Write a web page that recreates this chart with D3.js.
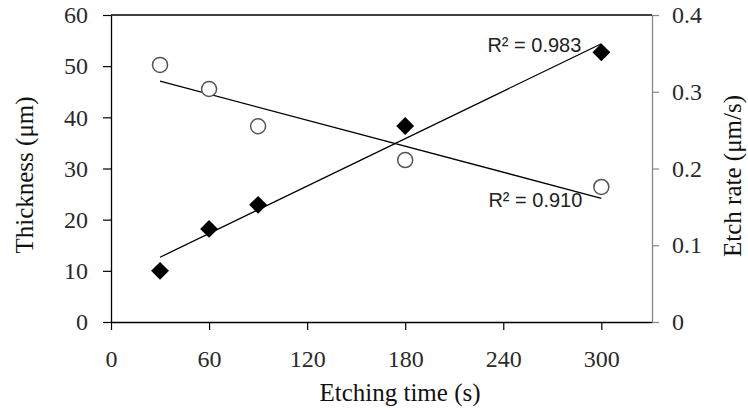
<!DOCTYPE html>
<html>
<head>
<meta charset="utf-8">
<script src="https://cdn.jsdelivr.net/npm/d3@7"></script>
<style>
  body { margin: 0; background: white; }
  svg { display: block; }
</style>
</head>
<body>
<div id="chart"></div>
<script>
// data
const times = [30, 60, 90, 180, 300];
const thickness = [10, 18.2, 22.9, 38.3, 52.7];      // left axis, filled diamonds
const etchRate = [0.335, 0.3036, 0.255, 0.211, 0.176]; // right axis, open circles
const xTicks = [0, 60, 120, 180, 240, 300];
const yLeftTicks = [0, 10, 20, 30, 40, 50, 60];
const yRightTicks = [0, 0.1, 0.2, 0.3, 0.4];
const r2Labels = ["R² = 0.983", "R² = 0.910"];

const w = 748, h = 410;
const m = { top: 15, right: 96, bottom: 88, left: 111 };

const svg = d3.select("#chart").append("svg")
  .attr("width", w).attr("height", h);

const x = d3.scaleLinear().domain([0, 331]).range([m.left, w - m.right]);
const y1 = d3.scaleLinear().domain([0, 60]).range([h - m.bottom, m.top]);
const y2 = d3.scaleLinear().domain([0, 0.4]).range([h - m.bottom, m.top]);

const serif = "'Liberation Serif', 'Times New Roman', serif";
const sans = "'Liberation Sans', Arial, sans-serif";

// least squares fit, used for the trend lines
function fit(xs, ys) {
  const mx = d3.mean(xs), my = d3.mean(ys);
  const b = d3.sum(xs, (d, i) => (d - mx) * (ys[i] - my)) / d3.sum(xs, (d) => (d - mx) ** 2);
  return (t) => my + b * (t - mx);
}

// top border
svg.append("line")
  .attr("x1", x(0)).attr("x2", x(331))
  .attr("y1", m.top).attr("y2", m.top)
  .attr("stroke", "#000").attr("stroke-width", 1.3);

// axes
const styleAxis = (g, col) => {
  g.select(".domain").attr("stroke", col).attr("stroke-width", 1.3);
  g.selectAll(".tick line").attr("stroke", col).attr("stroke-width", 1.2);
  g.selectAll(".tick text")
    .attr("font-family", serif).attr("font-size", 24).attr("fill", "#2a2a2a");
};

svg.append("g")
  .attr("transform", `translate(0,${h - m.bottom})`)
  .call(d3.axisBottom(x).tickValues(xTicks).tickSize(8).tickPadding(20).tickSizeOuter(0))
  .call((g) => styleAxis(g, "#000"));

svg.append("g")
  .attr("transform", `translate(${m.left},0)`)
  .call(d3.axisLeft(y1).tickValues(yLeftTicks).tickSize(8).tickPadding(15).tickSizeOuter(0))
  .call((g) => styleAxis(g, "#000"));

svg.append("g")
  .attr("transform", `translate(${w - m.right},0)`)
  .call(d3.axisRight(y2).tickValues(yRightTicks).tickFormat(d3.format("")).tickSize(7).tickPadding(13).tickSizeOuter(0))
  .call((g) => styleAxis(g, "#888"));

// trend lines
const f1 = fit(times, thickness);
const f2 = fit(times, etchRate);
const x0 = d3.min(times), x1 = d3.max(times);

svg.append("line")
  .attr("x1", x(x0)).attr("y1", y1(f1(x0)))
  .attr("x2", x(x1)).attr("y2", y1(f1(x1)))
  .attr("stroke", "#000").attr("stroke-width", 1.3);

svg.append("line")
  .attr("x1", x(x0)).attr("y1", y2(f2(x0)))
  .attr("x2", x(x1)).attr("y2", y2(f2(x1)))
  .attr("stroke", "#000").attr("stroke-width", 1.3);

// markers
svg.append("g").selectAll("path")
  .data(times)
  .join("path")
  .attr("d", d3.symbol(d3.symbolSquare, 160))
  .attr("transform", (d, i) => `translate(${x(d)},${y1(thickness[i])}) rotate(45)`)
  .attr("fill", "#000");

svg.append("g").selectAll("circle")
  .data(times)
  .join("circle")
  .attr("cx", (d) => x(d))
  .attr("cy", (d, i) => y2(etchRate[i]))
  .attr("r", 7.5)
  .attr("fill", "white")
  .attr("stroke", "#555")
  .attr("stroke-width", 1.5);

// R² labels
svg.append("text")
  .attr("x", x(x1) - 20).attr("y", y1(f1(x1)) + 8)
  .attr("text-anchor", "end")
  .attr("font-family", sans).attr("font-size", 20).attr("fill", "#222")
  .text(r2Labels[0]);

svg.append("text")
  .attr("x", x(x1) - 19).attr("y", y2(f2(x1)) + 9)
  .attr("text-anchor", "end")
  .attr("font-family", sans).attr("font-size", 20).attr("fill", "#222")
  .text(r2Labels[1]);

// axis titles
svg.append("text")
  .attr("x", 400).attr("y", 401)
  .attr("text-anchor", "middle")
  .attr("font-family", serif).attr("font-size", 25).attr("fill", "#111")
  .text("Etching time (s)");

svg.append("text")
  .attr("transform", "translate(33,175) rotate(-90)")
  .attr("text-anchor", "middle")
  .attr("font-family", serif).attr("font-size", 25).attr("fill", "#111")
  .text("Thickness (μm)");

svg.append("text")
  .attr("transform", "translate(741,176) rotate(-90)")
  .attr("text-anchor", "middle")
  .attr("font-family", serif).attr("font-size", 25).attr("fill", "#111")
  .text("Etch rate (μm/s)");
</script>
</body>
</html>
